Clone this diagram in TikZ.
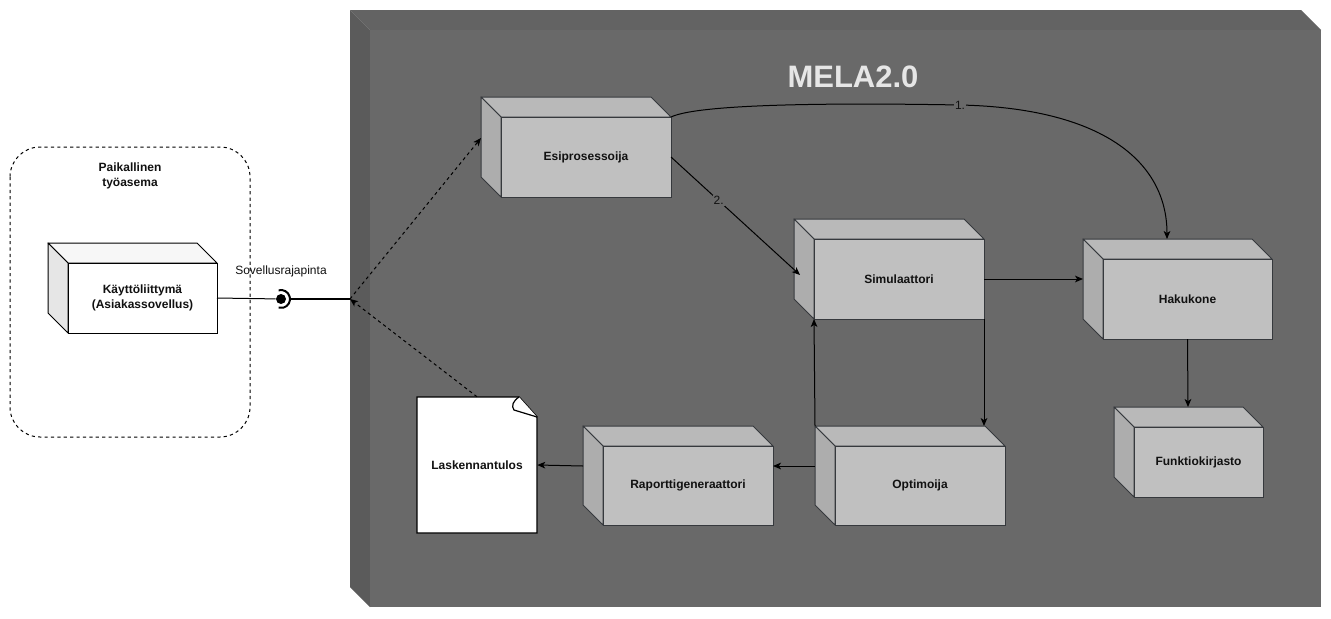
\documentclass[tikz,border=0pt]{standalone}
\usepackage{fontspec}
\setmainfont{Liberation Sans}
\usetikzlibrary{arrows.meta,calc}
\definecolor{bigfront}{HTML}{696969}
\definecolor{bigtop}{HTML}{636363}
\definecolor{bigside}{HTML}{5B5B5B}
\definecolor{gfront}{HTML}{C0C0C0}
\definecolor{gtop}{HTML}{B9B9B9}
\definecolor{gside}{HTML}{ADADAD}
\definecolor{gstroke}{HTML}{36393D}
\definecolor{wtop}{HTML}{F7F7F7}
\definecolor{wside}{HTML}{E6E6E6}
\definecolor{titlecol}{HTML}{E6E6E6}
\definecolor{txt}{HTML}{111111}
\newcommand{\dbox}[7]{%
  \filldraw[#7top] (#2-20,#3-20) -- (#4-20,#3-20) -- (#4,#3) -- (#2,#3) -- cycle;
  \filldraw[#7side] (#2-20,#3-20) -- (#2,#3) -- (#2,#5) -- (#2-20,#5-20) -- cycle;
  \node[#7front, lbl, anchor=north west, inner sep=0pt, outer sep=0pt,
        minimum width={(#4-#2)*0.75pt}, minimum height={(#5-#3)*0.75pt}] (#1) at (#2,#3) {#6};
}
\tikzset{
  lbl/.style={font=\fontsize{9}{11.25}\selectfont\bfseries, text=txt, align=center},
  plain/.style={font=\fontsize{9}{11.25}\selectfont, text=txt},
  boxgtop/.style={draw=gstroke, fill=gtop, line width=0.75pt, line join=round},
  boxgside/.style={draw=gstroke, fill=gside, line width=0.75pt, line join=round},
  boxgfront/.style={draw=gstroke, fill=gfront, line width=0.75pt},
  boxwtop/.style={draw=black, fill=wtop, line width=0.75pt, line join=round},
  boxwside/.style={draw=black, fill=wside, line width=0.75pt, line join=round},
  boxwfront/.style={draw=black, fill=white, line width=0.75pt},
  arr/.style={draw=black, line width=0.75pt, -{Stealth[length=6pt,width=5pt,inset=1.6pt]}},
  darr/.style={arr, dash pattern=on 2.4pt off 2.4pt},
}
\begin{document}
\begin{tikzpicture}[x=0.75pt, y=-0.75pt]
\useasboundingbox (0,0) rectangle (1331,618);
\fill[white] (0,0) rectangle (1331,618);

% big 3D container
\fill[bigtop] (350,10) -- (1301,10) -- (1321,30) -- (370,30) -- cycle;
\fill[bigside] (350,10) -- (370,30) -- (370,607) -- (350,587) -- cycle;
\fill[bigfront] (370,30) rectangle (1321,607);
\node[font=\fontsize{23.25}{28}\selectfont\bfseries, text=titlecol] (title) at (853,76.5) {MELA2.0};

% local workstation
\draw[black, line width=0.75pt, dash pattern=on 2.4pt off 2.4pt, rounded corners=22.5pt]
  (10,147) rectangle (250,437);
\node[lbl] (ws) at (130,176) {Paikallinen\\työasema};
\dbox{ui}{68}{263}{217}{333}{Käyttöliittymä\\(Asiakassovellus)}{boxw}

% interface lollipop
\node[circle, fill=black, minimum size=7.5pt, inner sep=0pt] (ball) at (281,299) {};
\draw[black, line width=1.5pt] (ball.center) ++(-105:9) arc[start angle=-105, end angle=105, radius=9];
\coordinate (api) at (350,299);
\coordinate (sockend) at (290,299);
\node[plain] (apilbl) at (281,271) {Sovellusrajapinta};
\draw[black, line width=0.75pt] (ui.east) -- (ball);
\draw[black, line width=1.5pt] (sockend) -- (api);

% components
\dbox{esi}{501}{117}{671}{197}{Esiprosessoija}{boxg}
\dbox{sim}{814}{239}{984}{319}{Simulaattori}{boxg}
\dbox{hak}{1103}{259}{1272}{339}{Hakukone}{boxg}
\dbox{fun}{1134}{427}{1263}{497}{Funktiokirjasto}{boxg}
\dbox{opt}{835}{446}{1005}{525}{Optimoija}{boxg}
\dbox{rap}{603}{446}{773}{525}{Raporttigeneraattori}{boxg}

% document
\fill[white, draw=black, line width=1.1pt, line join=miter]
  (417,397) -- (519,397) -- (537,417) -- (537,533) -- (417,533) -- cycle;
\filldraw[fill=white, draw=black, line width=0.9pt, line join=miter]
  (519,397) .. controls (513,401) and (511,406) .. (514,410) -- (537,417);
\node[lbl, minimum width=90pt, minimum height=102pt, inner sep=0pt] (lask) at (477,465) {Laskennantulos};

% anchor points
\coordinate (haktop) at (1167,239);
\coordinate (simleft) at (800,275);
\coordinate (hakleft) at (1083,279);
\coordinate (opttopr) at (984,426);
\coordinate (opttopl) at (815,426);
\coordinate (optleft) at (815,466);
\coordinate (rapright) at (773,466);
\coordinate (rapleft) at (583,466);
\coordinate (esileft) at (481,138);
\coordinate (esiright) at (671,157);
\coordinate (funtop) at (1188,407);

% connectors
\draw[arr] (esi.north east) .. controls (700,103) and (850,103) .. (960,105)
  node[plain, fill=bigfront, inner sep=0.8pt] (l1) {1.}
  .. controls (1100,108) and (1167,160) .. (haktop);
\draw[arr] (esiright) -- node[plain, fill=bigfront, inner sep=0.8pt, pos=0.37] (l2) {2.} (simleft);
\draw[arr] (sim.east) -- (hakleft);
\draw[arr] (sim.south east) -- (opttopr);
\draw[arr] (opttopl) -- (sim.south west);
\draw[arr] (hak.south) -- (funtop);
\draw[arr] (optleft) -- (rapright);
\draw[arr] (rapleft) -- (lask.east);
\draw[darr] (lask.north) -- (api);
\draw[darr] (api) -- (esileft);
\end{tikzpicture}
\end{document}
